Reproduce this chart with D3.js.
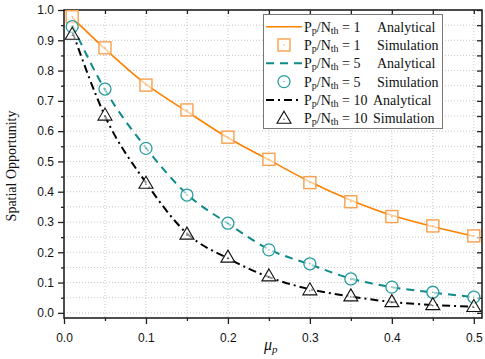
<!DOCTYPE html>
<html>
<head>
<meta charset="utf-8">
<script src="https://cdn.jsdelivr.net/npm/d3@7"></script>
<style>
	body { margin: 0; background: #fff; }
	svg { display: block; }
	.tick-label { font-family: "Liberation Sans", Arial, sans-serif; font-size: 12px; fill: #111; }
	.legend-text { font-family: "Liberation Serif", "Times New Roman", serif; font-size: 14px; fill: #111; }
	.axis-title { font-family: "Liberation Serif", "Times New Roman", serif; fill: #111; }
</style>
</head>
<body>
<svg id="chart" width="485" height="359"></svg>
<script>
const mu = [0.01, 0.05, 0.1, 0.15, 0.2, 0.25, 0.3, 0.35, 0.4, 0.45, 0.5];

// Pp/Nth = 1
const analytical1 = [0.975, 0.872, 0.755, 0.665, 0.578, 0.505, 0.433, 0.372, 0.322, 0.285, 0.253];
const simulation1 = [0.978, 0.875, 0.752, 0.670, 0.580, 0.507, 0.430, 0.367, 0.318, 0.287, 0.254];
// Pp/Nth = 5
const analytical5 = [0.950, 0.737, 0.545, 0.392, 0.295, 0.210, 0.160, 0.113, 0.085, 0.067, 0.052];
const simulation5 = [0.945, 0.739, 0.543, 0.389, 0.296, 0.208, 0.162, 0.112, 0.085, 0.068, 0.052];
// Pp/Nth = 10
const analytical10 = [0.930, 0.650, 0.430, 0.262, 0.180, 0.118, 0.078, 0.054, 0.036, 0.026, 0.020];
const simulation10 = [0.920, 0.653, 0.428, 0.260, 0.184, 0.122, 0.076, 0.056, 0.037, 0.027, 0.021];

const xTicks = [0, 0.1, 0.2, 0.3, 0.4, 0.5];
const yTicks = [0, 0.1, 0.2, 0.3, 0.4, 0.5, 0.6, 0.7, 0.8, 0.9, 1.0];
const legendRatios = ["1", "1", "5", "5", "10", "10"];
const legendKinds = ["Analytical", "Simulation", "Analytical", "Simulation", "Analytical", "Simulation"];

const width = 485;
const height = 359;
const margin = { top: 10, right: 3, bottom: 41, left: 64 };

const colors = {
	orange: "#ff8000",
	orangeMark: "#f9a04e",
	teal: "#0e8a8a",
	tealMark: "#2a9c9c",
	black: "#000"
};

const svg = d3.select("#chart");

const x = d3.scaleLinear()
	.domain([0, 0.51])
	.range([margin.left, width - margin.right]);

const y = d3.scaleLinear()
	.domain([-0.017, 1.0])
	.range([height - margin.bottom, margin.top]);

const minorX = d3.range(0, 0.51, 0.05).map(d => round2(d));
const minorY = d3.range(0, 1.0001, 0.05).map(d => round2(d));

function round2(v) {
	return Math.round(v * 100) / 100;
}

// gridlines
const grid = svg.append("g").attr("class", "grid");
grid.selectAll(".vgrid")
	.data(minorX.filter(d => d > 0))
	.join("line")
	.attr("x1", d => x(d)).attr("x2", d => x(d))
	.attr("y1", y.range()[1]).attr("y2", y.range()[0])
	.attr("stroke", "#c9c9c9")
	.attr("stroke-dasharray", "1,2");
grid.selectAll(".hgrid")
	.data(minorY)
	.join("line")
	.attr("x1", x.range()[0]).attr("x2", x.range()[1])
	.attr("y1", d => y(d)).attr("y2", d => y(d))
	.attr("stroke", "#c9c9c9")
	.attr("stroke-dasharray", "1,2");

// axes
svg.append("g")
	.attr("transform", `translate(0,${y.range()[0]})`)
	.call(d3.axisBottom(x).tickValues(xTicks).tickFormat(d3.format(".1f")).tickSize(6).tickPadding(9));
svg.append("g")
	.attr("transform", `translate(0,${y.range()[0]})`)
	.call(d3.axisBottom(x).tickValues(minorX.filter(d => !xTicks.includes(d))).tickFormat("").tickSize(3));

svg.append("g")
	.attr("transform", `translate(${x.range()[0]},0)`)
	.call(d3.axisLeft(y).tickValues(yTicks).tickFormat(d3.format(".1f")).tickSize(6).tickPadding(4));
svg.append("g")
	.attr("transform", `translate(${x.range()[0]},0)`)
	.call(d3.axisLeft(y).tickValues(minorY.filter(d => !yTicks.includes(d))).tickFormat("").tickSize(3));

// top and right: inward ticks
svg.append("g")
	.attr("transform", `translate(0,${y.range()[1]})`)
	.call(d3.axisBottom(x).tickValues(minorX.filter(d => d > 0)).tickFormat("").tickSize(4));
svg.append("g")
	.attr("transform", `translate(${x.range()[1]},0)`)
	.call(d3.axisLeft(y).tickValues(minorY).tickFormat("").tickSize(5));

svg.selectAll(".domain").remove();
svg.selectAll(".tick line").attr("stroke", "#222").attr("stroke-width", 1.3);
svg.selectAll(".tick text").attr("class", "tick-label").attr("fill", null);

// frame
svg.append("rect")
	.attr("x", x.range()[0])
	.attr("y", y.range()[1])
	.attr("width", x.range()[1] - x.range()[0])
	.attr("height", y.range()[0] - y.range()[1])
	.attr("fill", "none")
	.attr("stroke", "#222")
	.attr("stroke-width", 1.6);

// lines
const lineGen = d3.line()
	.x((d, i) => x(mu[i]))
	.y(d => y(d))
	.curve(d3.curveMonotoneX);

const plot = svg.append("g");

plot.append("path")
	.datum(analytical1)
	.attr("d", lineGen)
	.attr("fill", "none")
	.attr("stroke", colors.orange)
	.attr("stroke-width", 1.6);

plot.append("path")
	.datum(analytical5)
	.attr("d", lineGen)
	.attr("fill", "none")
	.attr("stroke", colors.teal)
	.attr("stroke-width", 2)
	.attr("stroke-dasharray", "8,6");

plot.append("path")
	.datum(analytical10)
	.attr("d", lineGen)
	.attr("fill", "none")
	.attr("stroke", colors.black)
	.attr("stroke-width", 2)
	.attr("stroke-dasharray", "8,4,2,4");

// markers
function square(g, cx, cy) {
	g.append("rect")
		.attr("x", cx - 6).attr("y", cy - 6)
		.attr("width", 12).attr("height", 12)
		.attr("fill", "#fff").attr("fill-opacity", 0.6)
		.attr("stroke", colors.orangeMark).attr("stroke-width", 1.4);
	g.append("rect")
		.attr("x", cx - 0.6).attr("y", cy - 0.6)
		.attr("width", 1.2).attr("height", 1.2)
		.attr("fill", colors.orangeMark);
}

function circle(g, cx, cy) {
	g.append("circle")
		.attr("cx", cx).attr("cy", cy).attr("r", 6)
		.attr("fill", "#fff").attr("fill-opacity", 0.6)
		.attr("stroke", colors.tealMark).attr("stroke-width", 1.3);
	g.append("circle")
		.attr("cx", cx).attr("cy", cy).attr("r", 0.7)
		.attr("fill", colors.tealMark);
}

function triangle(g, cx, cy) {
	g.append("path")
		.attr("d", `M${cx},${cy - 7}L${cx + 7},${cy + 5}L${cx - 7},${cy + 5}Z`)
		.attr("fill", "#fff").attr("fill-opacity", 0.6)
		.attr("stroke", "#111").attr("stroke-width", 1.1);
	g.append("circle")
		.attr("cx", cx).attr("cy", cy + 1).attr("r", 0.6)
		.attr("fill", "#111");
}

const markers = svg.append("g");
simulation1.forEach((v, i) => square(markers, x(mu[i]), y(v)));
simulation5.forEach((v, i) => circle(markers, x(mu[i]), y(v)));
simulation10.forEach((v, i) => triangle(markers, x(mu[i]), y(v)));

// legend
const legend = svg.append("g").attr("class", "legend");
legend.append("rect")
	.attr("x", 263.5).attr("y", 14.5)
	.attr("width", 179).attr("height", 114)
	.attr("fill", "#fff")
	.attr("stroke", "#777")
	.attr("stroke-width", 1);

const rowStep = 18.3;
const rowTop = 26.7;
const symX0 = 266, symX1 = 302, symMid = 284;

legendRatios.forEach((r, i) => {
	const cy = rowTop + i * rowStep;
	if (i === 0) {
		legend.append("line").attr("x1", symX0).attr("x2", symX1).attr("y1", cy).attr("y2", cy)
			.attr("stroke", colors.orange).attr("stroke-width", 1.6);
	} else if (i === 2) {
		legend.append("line").attr("x1", symX0).attr("x2", symX1).attr("y1", cy).attr("y2", cy)
			.attr("stroke", colors.teal).attr("stroke-width", 2).attr("stroke-dasharray", "8,6");
	} else if (i === 4) {
		legend.append("line").attr("x1", symX0).attr("x2", symX1).attr("y1", cy).attr("y2", cy)
			.attr("stroke", colors.black).attr("stroke-width", 2).attr("stroke-dasharray", "8,4,2,4");
	} else if (i === 1) {
		square(legend, symMid, cy);
	} else if (i === 3) {
		circle(legend, symMid, cy);
	} else {
		triangle(legend, symMid, cy);
	}

	const t = legend.append("text")
		.attr("class", "legend-text")
		.attr("x", 304)
		.attr("y", cy + 5);
	t.append("tspan").text("P");
	t.append("tspan").attr("font-size", "10px").attr("dy", 2).text("p");
	t.append("tspan").attr("dy", -2).text("/N");
	t.append("tspan").attr("font-size", "10px").attr("dy", 2).text("th");
	t.append("tspan").attr("dy", -2).text(` = ${r}`);

	legend.append("text")
		.attr("class", "legend-text")
		.attr("x", r === "10" ? 373 : 377)
		.attr("y", cy + 5)
		.text(legendKinds[i]);
});

// axis titles
svg.append("text")
	.attr("class", "axis-title")
	.attr("transform", `translate(16,${(y.range()[0] + y.range()[1]) / 2 + 2}) rotate(-90)`)
	.attr("text-anchor", "middle")
	.attr("font-size", "14px")
	.text("Spatial Opportunity");

const xt = svg.append("text")
	.attr("class", "axis-title")
	.attr("x", 264)
	.attr("y", 350)
	.attr("font-size", "16px")
	.attr("font-style", "italic");
xt.append("tspan").text("μ");
xt.append("tspan").attr("font-size", "11px").attr("dy", 3).text("p");
</script>
</body>
</html>
